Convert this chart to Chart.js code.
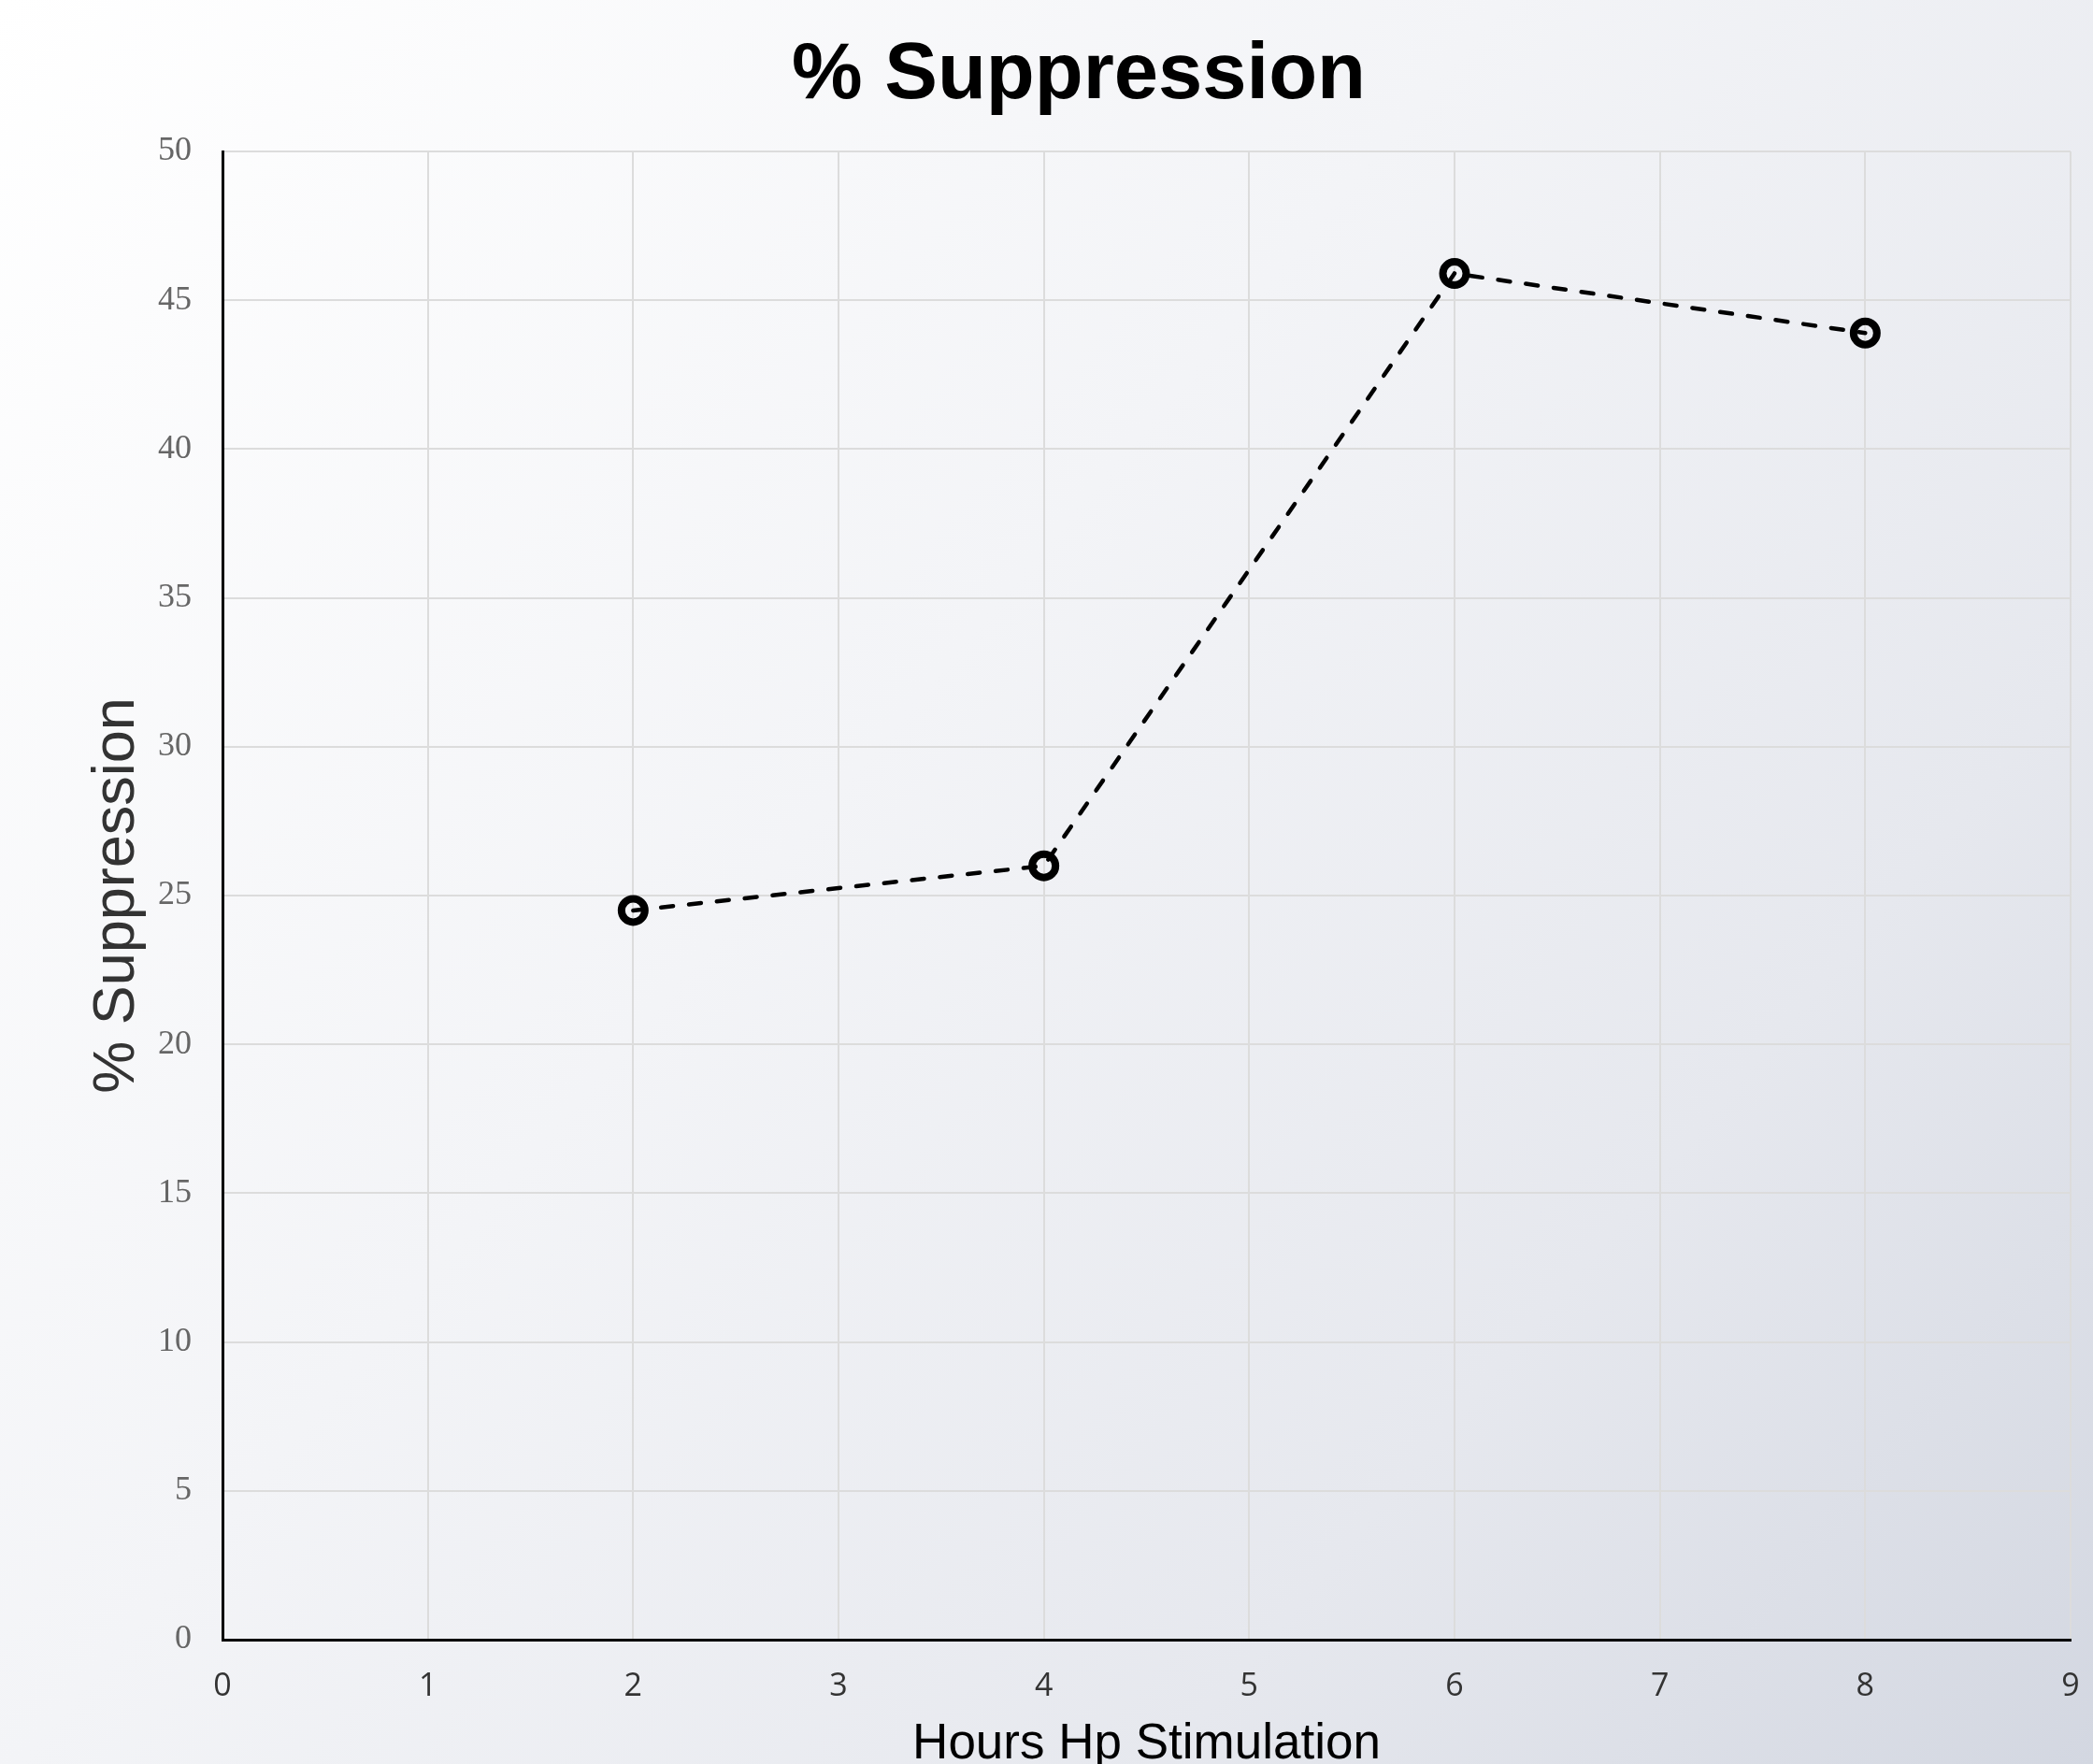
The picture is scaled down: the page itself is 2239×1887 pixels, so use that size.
<!DOCTYPE html>
<html>
<head>
<meta charset="utf-8">
<title>% Suppression</title>
<script src="https://cdn.jsdelivr.net/npm/chart.js@4.4.1/dist/chart.umd.min.js"></script>
<style>
    html, body { margin: 0; padding: 0; }
    #chart-wrap { width: 2239px; height: 1887px; position: relative; }
</style>
</head>
<body>
<div id="chart-wrap">
    <canvas id="suppression-chart"></canvas>
</div>
<script>
const hours = [2, 4, 6, 8];
const suppression = [24.5, 26, 45.9, 43.9];
const xTicks = [0, 1, 2, 3, 4, 5, 6, 7, 8, 9];
const yTicks = [0, 5, 10, 15, 20, 25, 30, 35, 40, 45, 50];

const pageBackground = {
    id: "pageBackground",
    beforeDraw(chart) {
        const { ctx, width, height } = chart;
        const grad = ctx.createLinearGradient(0, 0, width, height);
        grad.addColorStop(0, "#ffffff");
        grad.addColorStop(0.42, "#f3f4f7");
        grad.addColorStop(0.74, "#e6e8ee");
        grad.addColorStop(1, "#d3d7e1");
        ctx.save();
        ctx.fillStyle = grad;
        ctx.fillRect(0, 0, width, height);
        ctx.restore();
    },
};

function initSuppressionChart() {
    const canvas = document.getElementById("suppression-chart");
    if (!canvas) {
        return;
    }

    new Chart(canvas, {
        type: "line",
        data: {
            datasets: [
                {
                    label: "% Suppression",
                    data: hours.map((h, i) => ({ x: h, y: suppression[i] })),
                    borderColor: "#000000",
                    borderWidth: 4.5,
                    borderDash: [13, 17],
                    borderCapStyle: "round",
                    fill: false,
                    tension: 0,
                    pointRadius: 12.5,
                    pointHoverRadius: 12.5,
                    pointBorderWidth: 8,
                    pointBorderColor: "#000000",
                    pointBackgroundColor: "rgba(0, 0, 0, 0)",
                },
            ],
        },
        options: {
            responsive: true,
            maintainAspectRatio: false,
            animation: false,
            layout: {
                padding: { top: 10, left: 69, right: 0, bottom: 0 },
            },
            plugins: {
                legend: { display: false },
                tooltip: { enabled: false },
                title: {
                    display: true,
                    text: "% Suppression",
                    color: "#000000",
                    font: { family: "'Liberation Sans', Arial, sans-serif", size: 85, weight: "bold" },
                    padding: { top: 20.5, bottom: 29.5 },
                },
            },
            scales: {
                x: {
                    type: "linear",
                    min: xTicks[0],
                    max: xTicks[xTicks.length - 1],
                    afterBuildTicks(axis) {
                        axis.ticks = xTicks.map((v) => ({ value: v }));
                    },
                    afterFit(axis) {
                        // keep the plot close to the right edge, the "9" just hangs over
                        axis.paddingRight = 24;
                    },
                    grid: { color: "#dcdcdc", lineWidth: 2, drawTicks: false },
                    border: { display: true, color: "#000000", width: 3 },
                    ticks: {
                        color: "#333333",
                        padding: 29.5,
                        font: { family: "'Open Sans', sans-serif", size: 34 },
                    },
                    title: {
                        display: true,
                        text: "Hours Hp Stimulation",
                        color: "#000000",
                        font: { family: "'Liberation Sans', Arial, sans-serif", size: 53 },
                        padding: { top: -18.9, bottom: -11.5 },
                    },
                },
                y: {
                    min: yTicks[0],
                    max: yTicks[yTicks.length - 1],
                    afterBuildTicks(axis) {
                        axis.ticks = yTicks.map((v) => ({ value: v }));
                    },
                    grid: { color: "#dcdcdc", lineWidth: 2, drawTicks: false },
                    border: { display: true, color: "#000000", width: 3 },
                    ticks: {
                        color: "#666666",
                        padding: 33,
                        font: { family: "'Liberation Serif', 'Times New Roman', serif", size: 36 },
                    },
                    title: {
                        display: true,
                        text: "% Suppression",
                        color: "#333333",
                        font: { family: "'Liberation Sans', Arial, sans-serif", size: 63 },
                        padding: { top: 19.2, bottom: -27.8 },
                    },
                },
            },
        },
        plugins: [pageBackground],
    });
}

document.addEventListener("DOMContentLoaded", initSuppressionChart);
</script>
</body>
</html>
